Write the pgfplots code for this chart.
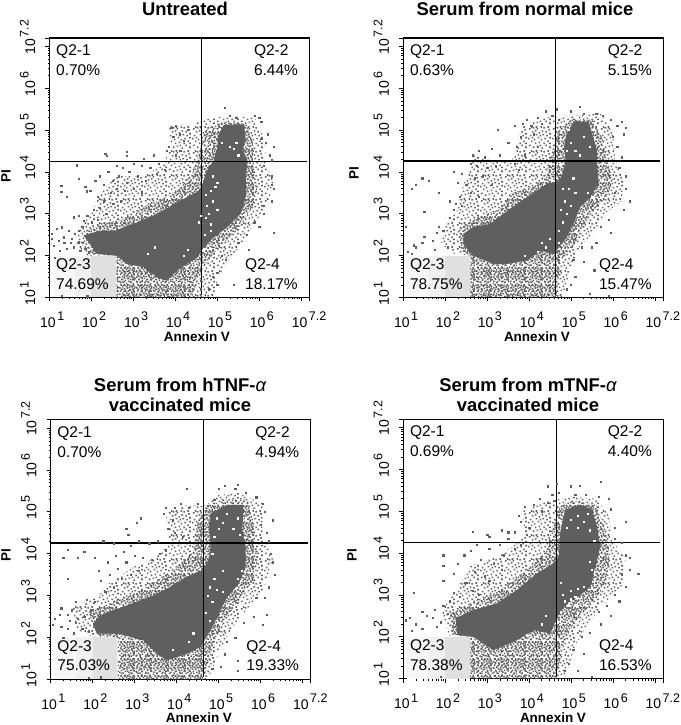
\documentclass[border=0pt]{standalone}
\usepackage{fontspec}
\setmainfont{Liberation Sans}
\usepackage{pgfplots}
\pgfplotsset{compat=1.18}
\usetikzlibrary{patterns}
\definecolor{dotgray}{HTML}{5f5f5f}

% stipple textures for the thin parts of the cloud
\def\sq#1#2{\pgfpathrectangle{\pgfpoint{#1pt}{#2pt}}{\pgfqpoint{1.6pt}{1.6pt}}}
\pgfdeclarepatternformonly{stipS}{\pgfqpoint{0pt}{0pt}}{\pgfqpoint{24pt}{24pt}}{\pgfqpoint{24pt}{24pt}}{%
\sq{1}{3}\sq{5}{1}\sq{9}{2}\sq{14}{0}\sq{18}{3}\sq{22}{1}\sq{3}{7}\sq{7}{5}\sq{11}{6}\sq{16}{5}\sq{20}{7}\sq{0}{10}\sq{6}{9}\sq{10}{11}\sq{13}{9}\sq{17}{10}\sq{22}{11}\sq{2}{13}\sq{8}{14}\sq{12}{13}\sq{15}{14}\sq{19}{13}\sq{22}{15}\sq{4}{17}\sq{7}{18}\sq{11}{16}\sq{14}{18}\sq{18}{17}\sq{21}{19}\sq{1}{20}\sq{5}{21}\sq{9}{20}\sq{13}{22}\sq{16}{21}\sq{20}{22}\sq{3}{22}\sq{8}{22}\sq{22}{5}\sq{12}{3}\sq{4}{11}\pgfusepath{fill}}
\pgfdeclarepatternformonly{stipT}{\pgfqpoint{0pt}{0pt}}{\pgfqpoint{17pt}{17pt}}{\pgfqpoint{17pt}{17pt}}{%
\sq{0}{1}\sq{3.5}{0}\sq{6}{2}\sq{9.5}{1}\sq{12}{0}\sq{15}{2.5}\sq{2}{3}\sq{5}{4.5}\sq{8}{4}\sq{11.5}{3}\sq{14}{4.5}\sq{0}{5.5}\sq{3}{6}\sq{7.5}{6.5}\sq{10}{6}\sq{13}{6.5}\sq{15.4}{5}\sq{1}{8.5}\sq{4.5}{8}\sq{6}{9}\sq{9}{8.5}\sq{12.5}{8}\sq{15}{8.5}\sq{2}{10.5}\sq{5}{11}\sq{8}{11.5}\sq{11}{10}\sq{14}{10.5}\sq{15.4}{11.5}\sq{0}{12}\sq{3}{13}\sq{7}{13.5}\sq{10.5}{12.5}\sq{13}{13}\sq{1.5}{15}\sq{5}{15}\sq{8.5}{15}\sq{11}{14.5}\sq{14}{15}\sq{15.4}{13.5}\pgfusepath{fill}}

% all data are log10 of the channel values
\def\logminor{1.301,1.477,1.602,1.699,1.778,1.845,1.903,1.954,2.301,2.477,2.602,2.699,2.778,2.845,2.903,2.954,3.301,3.477,3.602,3.699,3.778,3.845,3.903,3.954,4.301,4.477,4.602,4.699,4.778,4.845,4.903,4.954,5.301,5.477,5.602,5.699,5.778,5.845,5.903,5.954,6.301,6.477,6.602,6.699,6.778,6.845,6.903,6.954}
\newcommand\tk[1]{10\rlap{\hspace{1.5pt}\raisebox{6.5pt}[0pt][0pt]{\fontsize{12.5}{14}\selectfont #1}}}
\newcommand\tkfont{\fontsize{14}{16}\selectfont}
\newcommand\qfont{\fontsize{15.5}{17}\selectfont}

\pgfplotsset{
  panel/.style={
    anchor=south west, scale only axis, width=260pt, height=259.5pt,
    xmin=1, xmax=7.2, ymin=1, ymax=7.2,
    axis line style={line width=1.2pt},
    xtick={1,2,3,4,5,6,7,7.2}, ytick={1,2,3,4,5,6,7,7.2},
    minor xtick=\logminor, minor ytick=\logminor,
    xticklabels={\tk{1},\tk{2},\tk{3},\tk{4},\tk{5},\tk{6},\tk{7.2},},
    yticklabels={\tk{1},\tk{2},\tk{3},\tk{4},\tk{5},\tk{6},\tk{7.2},},
    tick align=outside, tick pos=lower,
    major tick length=4pt, minor tick length=2pt,
    every tick/.style={black, line width=0.8pt},
    minor tick style={black, line width=0.5pt},
    x tick label style={font=\tkfont, inner sep=0pt, yshift=-16pt, xshift=-1.5pt},
    y tick label style={font=\tkfont, inner sep=0pt, xshift=-10pt, rotate=90, anchor=south},
  },
  dots/.style={only marks, mark=square*, mark size=0.6pt, color=dotgray, mark options={draw=none}},
  wdots/.style={only marks, mark=square*, mark size=0.6pt, color=white, mark options={draw=none}},
  body/.style={fill=dotgray, draw=none},
  stipS/.style={pattern=stipS, pattern color=dotgray, draw=none},
  stipT/.style={pattern=stipT, pattern color=dotgray, draw=none},
  quad/.style={black, line width=1.5pt},
}
\newcommand\qnodes[4]{%
  \node[anchor=west,font=\qfont,inner sep=0pt] at (rel axis cs:0.025,0.947) {Q2-1};
  \node[anchor=west,font=\qfont,inner sep=0pt] at (rel axis cs:0.025,0.877) {#1};
  \node[anchor=west,font=\qfont,inner sep=0pt] at (rel axis cs:0.786,0.947) {Q2-2};
  \node[anchor=west,font=\qfont,inner sep=0pt] at (rel axis cs:0.786,0.877) {#2};
  \node[anchor=west,font=\qfont,inner sep=0pt] at (rel axis cs:0.025,0.1225) {Q2-3};
  \node[anchor=west,font=\qfont,inner sep=0pt] at (rel axis cs:0.025,0.053) {#3};
  \node[anchor=west,font=\qfont,inner sep=0pt] at (rel axis cs:0.752,0.1225) {Q2-4};
  \node[anchor=west,font=\qfont,inner sep=0pt] at (rel axis cs:0.752,0.053) {#4};
}
\newcommand\gatebox{%
  \addplot[fill=black!3,draw=none] coordinates {(1.1,1)(1.1,2)(1.6,2)(1.6,1)};
  \addplot[fill=black!6,draw=none] coordinates {(1.6,1)(1.6,2)(2.0,2)(2.0,1)};
  \addplot[fill=black!12,draw=none] coordinates {(2.0,1)(2.0,2)(2.59,2)(2.59,1)};
}
\newcommand\quadlines[2]{%
  \addplot[quad] coordinates {(#1,1.05)(#1,7.2)};
  \addplot[quad] coordinates {(1,#2)(7.13,#2)};
}
\tikzset{ttl/.style={font=\fontsize{18.4}{21}\selectfont\bfseries, inner sep=0pt},
  axl/.style={font=\fontsize{13.5}{15}\selectfont\bfseries, inner sep=0pt}}

\begin{document}
\begin{tikzpicture}[x=1pt,y=1pt]
\useasboundingbox (0,0) rectangle (680,725);

% ---- Untreated
\begin{axis}[panel, at={(49.5pt,427.5pt)}]
\addplot[stipS] coordinates {(1.75,2.7)(2.0,3.0)(2.2,3.5)(2.6,3.9)(3.2,3.9)(3.7,4.15)(3.9,4.6)(3.85,5.1)(4.4,5.15)(4.7,5.25)(5.3,5.35)(5.9,5.3)(6.15,4.7)(6.15,4.2)(6.35,3.8)(6.2,3.2)(5.9,2.8)(5.6,2.3)(5.2,1.8)(5.0,1.4)(4.9,1)(2.6,1)(2.6,2)(1.9,2.0)(1.6,2.3)};
\addplot[stipT] coordinates {(1.8,2.55)(2.2,2.75)(2.7,2.85)(3.2,3.15)(3.7,3.35)(4.1,3.6)(4.4,3.95)(4.55,4.4)(4.7,5.0)(5.1,5.2)(5.7,5.15)(5.85,4.7)(5.85,4.2)(5.95,3.6)(5.85,3.2)(5.55,2.7)(5.2,2.35)(4.85,2.0)(4.6,1.6)(4.4,1.0)(2.6,1.0)(2.6,2)(2.0,2.05)};
\addplot[body] coordinates {(1.81,2.48)(2.21,2.6)(2.57,2.6)(3.01,2.76)(3.57,3.0)(4.12,3.32)(4.52,3.52)(4.63,3.64)(4.7,3.88)(4.8,4.12)(4.92,4.28)(5,4.6)(5.04,4.92)(5.16,5.12)(5.64,5.14)(5.68,4.76)(5.6,4.52)(5.72,4.28)(5.68,3.88)(5.68,3.4)(5.56,3)(5.24,2.68)(4.92,2.44)(4.68,2.2)(4.52,1.96)(4.28,1.8)(4.04,1.64)(3.8,1.4)(3.57,1.48)(3.25,1.72)(2.85,1.8)(2.61,2)(2.13,2.04)(1.97,2.28)};
\gatebox
\addplot[wdots] coordinates {(4.55,2.8)(4.6,2.95)(4.72,2.9)(4.8,3.0)(4.85,2.75)(4.75,3.2)(4.9,3.3)(4.72,3.45)(4.85,3.55)(5.0,3.75)(4.9,3.9)(5.0,3.1)(4.95,3.65)(3.35,2.05)(3.5,2.2)(4.2,2.0)(4.3,2.15)(4.75,4.4)(4.85,4.5)(4.75,4.7)(4.9,4.8)(4.8,5.0)(5.1,4.7)(5.3,4.6)(5.4,4.55)(5.45,4.7)(4.95,5.0)(5.5,4.4)(4.7,2.5)(4.85,2.6)};
\addplot[dots] coordinates {(2.33,4.44)(2.37,4.39)(2.85,4.48)(2.85,4.38)(3.25,4.32)(3.49,4.4)(1.64,4.16)(1.28,3.68)(1.28,3.52)(1.41,3.4)(1.85,3.64)(1.89,3.54)(1.97,3.56)(1.69,3.84)(2.09,3.8)(2.2,3.9)(2.4,4.0)(2.6,4.15)(2.75,4.1)(2.9,4.0)(3.0,4.2)(3.2,4.15)(3.4,4.1)(3.6,4.2)(2.3,3.7)(2.5,3.8)(2.65,3.9)(2.85,3.75)(3.1,3.9)(3.3,3.8)(3.55,3.95)(3.75,4.05)(2.15,3.4)(2.3,3.3)(2.45,3.5)(2.6,3.6)(2.8,3.55)(3.0,3.6)(3.2,3.5)(2.05,3.1)(2.2,3.15)(2.35,3.0)(2.5,3.25)(2.7,3.3)(1.9,2.95)(2.0,2.8)(2.15,2.85)(1.57,2.92)(1.69,2.96)(1.81,2.84)(1.29,2.68)(1.18,2.64)(1.06,2.52)(1.06,2.4)(1.1,2.24)(1.22,2.36)(1.33,2.44)(1.45,2.6)(1.53,2.4)(1.61,2.52)(1.69,2.32)(1.41,2.16)(1.25,2.12)(1.13,1.96)(1.73,2.12)(1.57,2.2)(1.85,2.16)(1.93,2.08)(1.7,2.6)(1.78,2.7)(1.5,2.3)(1.35,2.3)(1.8,2.3)(6.3,3.9)(6.35,3.6)(6.3,3.3)(6.34,2.54)(6.3,3.7)(6.1,3.0)(5.9,2.8)(5.7,2.5)(5.5,2.3)(5.2,1.9)(5.0,1.6)(5.4,1.3)(4.9,1.5)(5.0,1.3)(4.8,1.2)(5.1,2.0)(5.75,2.15)(6.0,2.7)(6.1,3.2)(5.18,5.54)(5.3,5.35)(5.45,5.3)(5.9,5.35)(6.0,5.3)(6.05,5.2)(6.2,4.9)(6.15,4.7)(6.35,4.6)(6.05,4.8)(6.25,4.4)(6.3,4.28)(6.1,4.15)(4.0,5.1)(3.9,5.05)(3.85,4.6)(3.95,4.85)(4.1,4.9)(4.2,4.75)(4.3,5.0)(3.8,4.5)(4.1,4.5)(4.0,4.4)(4.6,1.2)(4.6,1.4)(1.3,1.05)(1.9,1.03)};
\quadlines{4.63}{4.25}
\qnodes{0.70\%}{6.44\%}{74.69\%}{18.17\%}
\end{axis}
\node[ttl] at (185,716) {Untreated};
\node[axl] at (197,388) {Annexin V};
\node[axl,rotate=90] at (6,549) {PI};

% ---- Serum from normal mice
\begin{axis}[panel, at={(403.3pt,427.5pt)}]
\addplot[stipS] coordinates {(2.0,2.7)(2.3,3.1)(2.4,3.6)(2.55,4.0)(2.7,4.4)(3.2,4.25)(3.6,4.3)(3.75,4.8)(3.85,5.1)(4.4,5.3)(5.0,5.35)(5.7,5.4)(6.0,5.0)(6.05,4.3)(6.25,3.8)(6.2,3.3)(5.8,3)(5.5,2.5)(5.2,2.2)(5.0,1.7)(4.8,1)(2.6,1)(2.6,2)(2.2,2.05)(1.9,2.3)};
\addplot[stipT] coordinates {(2.3,2.6)(2.8,2.95)(3.3,3.1)(3.6,3.5)(4.1,3.65)(4.4,3.95)(4.55,4.5)(4.7,5.0)(5.0,5.25)(5.5,5.25)(5.75,4.8)(5.85,4.3)(6.0,3.8)(5.85,3.4)(5.5,3.05)(5.25,2.6)(5.05,2.2)(4.75,1.9)(4.65,1.0)(2.6,1.0)(2.6,2)(2.4,2.1)};
\addplot[body] coordinates {(2.43,2.52)(2.67,2.68)(3.07,2.76)(3.55,3.12)(3.95,3.4)(4.43,3.72)(4.63,3.76)(4.78,3.88)(4.87,4.28)(4.83,4.6)(4.9,4.92)(5.06,5.2)(5.42,5.2)(5.5,4.92)(5.62,4.52)(5.62,4.2)(5.66,3.72)(5.46,3.4)(5.22,3.16)(5.06,2.76)(4.9,2.44)(4.59,2.04)(4.27,2.12)(3.95,1.88)(3.47,1.8)(3.15,1.8)(2.67,2)(2.55,2.12)(2.43,2.28)};
\gatebox
\addplot[wdots] coordinates {(4.7,2.6)(4.8,2.8)(4.9,3.0)(4.75,3.1)(4.85,3.3)(5.0,3.2)(4.95,3.6)(5.1,3.5)(5.05,3.85)(4.8,3.6)(4.9,4.5)(5.0,4.7)(5.1,4.5)(5.3,4.85)(4.95,5.0)(5.45,4.6)(5.2,4.4)(4.2,2.1)(4.4,2.2)(4.5,2.4)(4.3,2.3)(3.9,2.0)(4.7,2.3)(5.4,3.5)};
\addplot[dots] coordinates {(1.3,3.7)(1.2,3.6)(1.45,3.85)(1.6,3.8)(1.85,3.5)(2.1,2.9)(2.2,3.1)(2.25,3.25)(2.35,3.4)(2.1,3.3)(1.5,3.05)(1.05,2.7)(1.1,2.1)(1.2,2.05)(1.3,2.2)(1.5,2.45)(1.7,2.35)(1.8,2.55)(1.85,2.7)(1.95,2.6)(1.75,2.15)(1.45,2.3)(1.25,2.25)(2.05,2.2)(2.2,4.0)(2.4,3.95)(2.6,4.2)(2.65,4.4)(2.8,4.5)(2.95,4.35)(3.1,4.55)(3.3,4.4)(3.5,4.7)(2.75,4.15)(3.0,4.1)(3.2,4.15)(2.5,3.7)(2.7,3.85)(2.9,3.9)(3.1,3.7)(2.6,3.5)(2.8,3.4)(2.4,3.2)(3.65,4.2)(3.75,4.05)(2.3,3.75)(3.25,5.0)(3.85,5.15)(4.05,5.1)(3.65,5.1)(3.8,4.85)(3.7,4.6)(3.95,5.25)(4.2,5.3)(4.4,5.45)(4.55,5.35)(4.65,5.5)(4.3,5.15)(4.7,5.25)(4.1,4.9)(4.2,4.6)(3.9,4.4)(5.2,5.55)(5.0,5.45)(5.3,5.4)(5.6,5.4)(5.75,5.35)(5.95,5.25)(6.1,5.1)(6.2,5.2)(6.3,5.05)(6.25,4.9)(6.0,4.85)(6.1,4.6)(6.2,4.35)(6.15,4.1)(6.3,3.9)(6.3,3.6)(6.4,3.3)(6.25,3.1)(6.05,3.5)(5.9,2.85)(5.95,2.55)(5.7,2.7)(5.6,2.3)(5.5,2.2)(5.25,2.2)(5.3,1.85)(5.05,1.9)(5.1,1.5)(4.9,1.2)(5.45,1.1)(5.55,1.65)(5.0,1.3)(5.9,1.05)};
\quadlines{4.63}{4.26}
\qnodes{0.63\%}{5.15\%}{78.75\%}{15.47\%}
\end{axis}
\node[ttl] at (525,716) {Serum from normal mice};
\node[axl] at (537,388) {Annexin V};
\node[axl,rotate=90] at (354,552) {PI};

% ---- hTNF
\begin{axis}[panel, at={(50.7pt,45.7pt)}]
\addplot[stipS] coordinates {(1.5,2.75)(2.1,2.95)(2.4,3.3)(3,3.7)(3.5,3.9)(3.8,4.2)(3.75,5.0)(4.2,5.15)(4.7,5.15)(5.0,5.4)(5.5,5.45)(6.05,5.2)(6.05,4.5)(6.3,3.9)(6.1,3.2)(5.7,2.7)(5.3,2.2)(5.0,1.6)(4.75,1)(2.6,1)(2.6,2)(2,2.02)(1.6,2.2)};
\addplot[stipT] coordinates {(1.9,2.6)(2.5,2.85)(3.1,3.1)(3.6,3.4)(4.1,3.75)(4.4,4.05)(4.5,4.8)(4.75,5.1)(5.1,5.3)(5.7,5.3)(5.85,4.6)(5.95,3.95)(5.85,3.4)(5.5,2.9)(5.2,2.5)(4.9,1.9)(4.65,1)(2.6,1)(2.6,2)(2.1,2.05)};
\addplot[body] coordinates {(2.18,2.53)(2.82,2.77)(3.37,2.97)(3.85,3.21)(4.33,3.49)(4.61,3.61)(4.77,3.85)(4.81,4.17)(4.77,4.65)(4.81,4.97)(5.21,5.17)(5.6,5.17)(5.57,4.57)(5.65,4.17)(5.65,3.69)(5.49,3.29)(5.21,2.97)(5.05,2.65)(4.81,2.17)(4.57,1.77)(4.25,1.61)(3.77,1.45)(3.53,1.61)(3.21,1.93)(2.62,2.09)(2.1,2.09)(2.02,2.33)};
\gatebox
\addplot[wdots] coordinates {(4.75,3.0)(4.85,2.85)(4.8,3.2)(4.9,3.4)(4.7,2.6)(4.95,3.15)(4.85,4.0)(4.9,4.4)(5.0,4.6)(4.95,4.85)(5.1,4.75)(5.2,4.95)(5.35,4.6)(5.45,4.85)(5.5,4.45)(5.1,3.6)(4.8,2.4)(4.3,1.9)(4.4,2.1)(3.9,1.7)(5.45,3.4)(5.55,3.6)(5.1,3.1)};
\addplot[dots] coordinates {(1.3,3.9)(1.4,4.1)(1.4,3.4)(1.65,3.9)(1.8,4.05)(2.05,3.9)(2.25,4.3)(2.35,3.8)(2.55,3.95)(2.75,4.05)(2.9,4.2)(3.1,4.3)(3.35,4.25)(3.55,4.3)(2.8,4.6)(3.05,4.75)(3.15,4.85)(2.85,4.45)(2.5,4.25)(2.2,3.35)(2.15,3.6)(2.4,3.5)(2.6,3.65)(2.8,3.8)(3.0,3.95)(3.2,3.9)(3.4,3.85)(3.6,4.0)(3.75,4.1)(2.3,3.1)(2.5,3.2)(2.7,3.4)(2.9,3.5)(3.1,3.6)(2.05,2.85)(1.85,2.9)(1.6,2.85)(1.5,2.65)(1.4,2.55)(1.25,2.7)(1.22,2.55)(1.1,2.45)(1.05,2.3)(1.25,2.25)(1.4,2.2)(1.55,2.1)(1.45,2.4)(1.65,2.45)(1.8,2.5)(1.95,2.65)(1.75,2.2)(1.9,2.15)(1.6,2.35)(1.3,2.0)(1.9,1.03)(2.2,1.05)(3.7,4.95)(3.75,5.1)(3.9,4.8)(3.95,5.1)(4.1,5.2)(4.25,5.55)(4.3,5.1)(4.5,5.2)(3.8,4.6)(3.95,4.5)(4.15,4.4)(4.75,5.15)(4.9,5.3)(5.0,5.55)(5.15,5.62)(5.4,5.55)(5.45,5.65)(5.65,5.45)(5.9,5.35)(6.05,5.2)(6.1,5.0)(6.3,4.8)(6.0,4.7)(6.15,4.5)(6.2,4.3)(6.25,4.0)(6.3,3.8)(6.35,3.5)(6.2,3.2)(6.1,2.95)(5.9,2.95)(5.85,2.5)(6.05,2.3)(6.15,2.55)(5.6,2.35)(5.4,2.0)(5.2,1.9)(5.15,1.6)(5.05,1.3)(5.45,1.45)(4.85,1.25)(5.45,1.2)};
\quadlines{4.64}{4.256}
\qnodes{0.70\%}{4.94\%}{75.03\%}{19.33\%}
\end{axis}
\node[ttl] at (180,340) {Serum from hTNF-{\normalfont\itshape α}};
\node[ttl] at (180,320.3) {vaccinated mice};
\node[axl] at (199,7) {Annexin V};
\node[axl,rotate=90] at (6,170) {PI};

% ---- mTNF
\begin{axis}[panel, at={(403.3pt,46.3pt)}]
\addplot[stipS] coordinates {(1.9,2.6)(2.3,3.2)(2.6,3.7)(3.2,3.9)(3.6,4.15)(3.9,4.4)(3.85,5)(4.3,5.2)(5.0,5.35)(5.6,5.3)(5.9,4.9)(6.0,4.3)(6.3,3.85)(6.2,3.2)(5.8,2.8)(5.4,2.3)(5.1,1.8)(4.85,1)(2.6,1)(2.6,2)(2.1,2.03)};
\addplot[stipT] coordinates {(2.1,2.55)(2.7,2.85)(3.2,3.05)(3.7,3.4)(4.1,3.75)(4.4,4.05)(4.55,4.6)(4.75,5.15)(5.1,5.25)(5.6,5.15)(5.8,4.6)(5.9,4.15)(5.9,3.7)(5.8,3.2)(5.4,2.7)(5.05,2.3)(4.8,1.8)(4.65,1)(2.6,1)(2.6,2)(2.2,2.05)};
\addplot[body] coordinates {(2.24,2.44)(2.67,2.64)(3.23,2.8)(3.71,3.12)(4.19,3.52)(4.59,3.76)(4.71,3.92)(4.74,4.48)(4.86,5.04)(5.22,5.16)(5.5,5.04)(5.62,4.64)(5.7,4.16)(5.58,3.68)(5.46,3.2)(5.18,2.96)(4.9,2.8)(4.67,2.48)(4.51,2.08)(4.11,2.16)(3.71,1.92)(3.15,1.68)(2.67,2)(2.3,2.04)};
\gatebox
\addplot[wdots] coordinates {(4.8,3.0)(4.85,2.85)(4.75,3.3)(5.0,3.1)(5.1,2.95)(5.15,3.15)(5.0,2.9)(4.9,4.6)(5.0,4.8)(5.15,4.9)(5.3,4.75)(5.4,4.95)(5.15,4.6)(5.45,4.55)(5.55,4.3)(5.5,3.6)(5.45,3.8)(4.75,2.6)(4.3,2.3)(4.4,2.5)(3.95,2.05)(4.2,2.0)(5.3,3.2)};
\addplot[dots] coordinates {(1.25,3.05)(1.45,2.6)(1.05,2.4)(1.15,2.45)(1.2,2.15)(1.3,2.3)(1.45,2.2)(1.55,2.5)(1.7,2.45)(1.8,2.25)(1.9,2.35)(1.75,2.65)(1.95,2.75)(2.05,2.55)(2.1,2.85)(2.2,3.05)(2.35,2.95)(1.95,3.35)(1.95,3.7)(1.95,3.95)(2.2,3.5)(2.3,3.75)(2.45,3.95)(2.6,4.05)(2.75,4.2)(2.5,3.3)(2.7,3.55)(2.85,3.85)(3.05,4.1)(3.3,4.2)(3.5,4.35)(2.95,3.45)(3.15,3.75)(3.4,3.95)(3.65,4.1)(3.8,4.2)(2.65,3.1)(2.8,3.0)(3.05,3.35)(3.35,3.6)(2.65,4.52)(3.0,4.45)(3.05,4.4)(3.35,4.55)(3.5,4.5)(3.65,4.5)(3.75,4.9)(3.8,4.75)(3.9,5.1)(4.0,4.6)(4.1,5.15)(4.25,5.3)(4.3,5.0)(4.45,5.2)(3.95,4.45)(4.55,5.4)(4.65,5.65)(4.7,5.45)(4.45,5.6)(4.6,5.25)(5.0,5.6)(5.2,5.62)(5.1,5.4)(5.35,5.4)(5.65,5.35)(5.7,5.7)(5.9,5.3)(5.95,5.05)(6.3,4.75)(6.05,4.6)(6.2,4.25)(6.05,4.35)(6.3,3.95)(6.4,3.9)(6.2,3.5)(6.4,3.6)(6.3,3.2)(6.05,3.0)(6.15,2.85)(5.85,2.75)(5.95,2.5)(5.65,2.6)(5.7,2.3)(5.45,2.1)(5.25,2.0)(5.3,1.6)(5.05,1.7)(5.15,1.2)(4.95,1.35)(4.85,1.2)(5.5,1.05)(6.6,3.5)(1.9,1.05)};
\quadlines{4.65}{4.26}
\qnodes{0.69\%}{4.40\%}{78.38\%}{16.53\%}
\end{axis}
\node[ttl] at (528,340) {Serum from mTNF-{\normalfont\itshape α}};
\node[ttl] at (528,320.3) {vaccinated mice};
\node[axl] at (553,7) {Annexin V};
\node[axl,rotate=90] at (352,170) {PI};
\end{tikzpicture}
\end{document}
